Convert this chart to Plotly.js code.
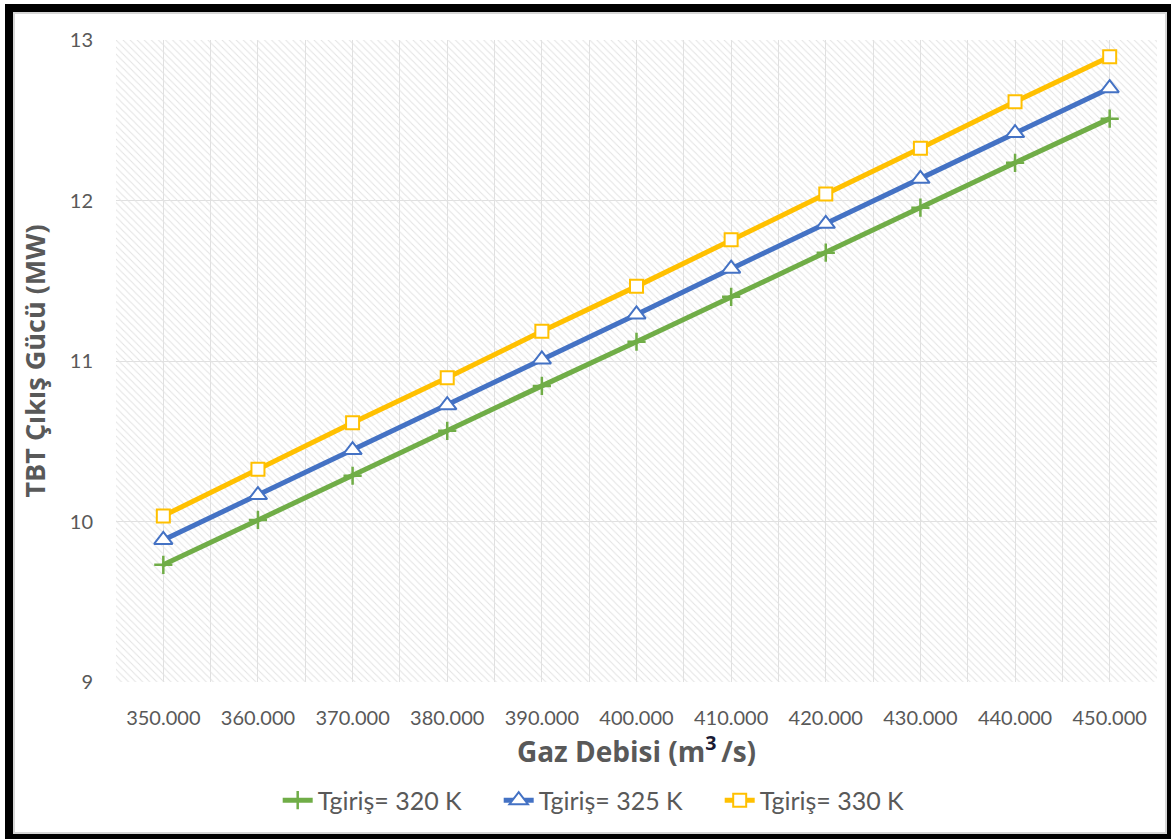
<!DOCTYPE html>
<html>
<head>
<meta charset="utf-8">
<script src="https://cdn.plot.ly/plotly-3.0.1.min.js"></script>
<style>
  html, body { margin: 0; padding: 0; background: #ffffff; }
  #wrap { position: relative; width: 1171px; height: 839px; overflow: hidden; }
  #chart { position: absolute; left: 0; top: 0; width: 1171px; height: 839px; }
  #frame {
    position: absolute; left: 5px; top: 4px; width: 1166px; height: 835px;
    box-sizing: border-box;
    border-left: 8px solid #000; border-top: 8px solid #000;
    border-right: 4px solid #000; border-bottom: 5px solid #000;
    box-shadow: inset 0 0 0 2px #d6d6d6;
    pointer-events: none;
  }
</style>
</head>
<body>
<div id="wrap">
  <div id="chart"></div>
  <div id="frame"></div>
</div>
<script>
// ---- data ----
const gasFlow = [350000, 360000, 370000, 380000, 390000, 400000, 410000, 420000, 430000, 440000, 450000];
const tickLabels = ["350.000", "360.000", "370.000", "380.000", "390.000", "400.000", "410.000", "420.000", "430.000", "440.000", "450.000"];
const power320 = [9.73, 10.01, 10.285, 10.565, 10.845, 11.12, 11.40, 11.675, 11.955, 12.235, 12.51];
const power325 = [9.885, 10.165, 10.445, 10.725, 11.01, 11.29, 11.575, 11.855, 12.135, 12.42, 12.70];
const power330 = [10.035, 10.325, 10.615, 10.895, 11.185, 11.465, 11.755, 12.04, 12.325, 12.615, 12.895];
const seriesNames = ["Tgiriş= 320 K", "Tgiriş= 325 K", "Tgiriş= 330 K"];
const yTicks = [9, 10, 11, 12, 13];
const xRange = [345000, 455000];
const yRange = [9, 13];

const font = "Lato, 'Open Sans', sans-serif";
const titleFont = "'Open Sans', Lato, sans-serif";
const textGray = "#595959";
const pad = "\u00a0\u00a0\u00a0\u00a0\u00a0";

const hatch = {
  x: [xRange[0], xRange[1], xRange[1], xRange[0], xRange[0]],
  y: [yRange[0], yRange[0], yRange[1], yRange[1], yRange[0]],
  mode: "lines", fill: "toself",
  line: { width: 0, color: "rgba(0,0,0,0)" },
  fillcolor: "rgba(0,0,0,0)",
  fillpattern: { shape: "\\", fgcolor: "#e3e3e3", bgcolor: "rgba(0,0,0,0)", size: 5, solidity: 0.2 },
  hoverinfo: "skip", showlegend: false
};

const t320 = {
  x: gasFlow, y: power320, name: seriesNames[0] + pad, mode: "lines+markers",
  line: { color: "#70AD47", width: 5 },
  marker: { symbol: "cross-thin", size: 13, color: "#70AD47", line: { color: "#70AD47", width: 2.5 } }
};
const t325 = {
  x: gasFlow, y: power325, name: seriesNames[1] + pad, mode: "lines+markers",
  line: { color: "#4472C4", width: 5 },
  marker: { symbol: "triangle-up", size: 16, color: "#ffffff", line: { color: "#4472C4", width: 2 } }
};
const t330 = {
  x: gasFlow, y: power330, name: seriesNames[2], mode: "lines+markers",
  line: { color: "#FFC000", width: 5 },
  marker: { symbol: "square", size: 13, color: "#ffffff", line: { color: "#FFC000", width: 2 } }
};

const layout = {
  width: 1171, height: 839,
  margin: { l: 116, r: 14, t: 40, b: 157 },
  paper_bgcolor: "#ffffff", plot_bgcolor: "#ffffff",
  font: { family: font, color: textGray, size: 20 },
  showlegend: true,
  legend: {
    orientation: "h", x: 0.507, xanchor: "center", xref: "container",
    y: 0.046, yanchor: "middle", yref: "container",
    font: { family: font, size: 25, color: textGray },
    itemwidth: 30, tracegroupgap: 0
  },
  xaxis: {
    range: xRange, tickmode: "array", tickvals: gasFlow, ticktext: tickLabels,
    showgrid: true, gridcolor: "#e0e0e0", gridwidth: 1,
    minor: { tick0: 345000, dtick: 10000, showgrid: true, gridcolor: "#e0e0e0", gridwidth: 1 },
    showline: false, zeroline: false, ticks: "",
    ticklabelstandoff: 22,
    tickfont: { family: font, size: 20, color: textGray },
    title: { text: "<b>Gaz Debisi (m<sup><span style='color:#1a1a33'>3</span></sup>\u2009/s)</b>", font: { family: titleFont, size: 28, color: textGray }, standoff: 9 }
  },
  yaxis: {
    range: yRange, tickmode: "array", tickvals: yTicks,
    showgrid: true, gridcolor: "#e0e0e0", gridwidth: 1,
    showline: false, zeroline: false, ticks: "",
    ticklabelstandoff: 22,
    tickfont: { family: font, size: 20, color: textGray },
    title: { text: "<b>TBT Çıkış Gücü (MW)</b>", font: { family: titleFont, size: 27, color: textGray }, standoff: 16 }
  }
};

Plotly.newPlot("chart", [hatch, t320, t325, t330], layout, { displayModeBar: false, staticPlot: true });
</script>
</body>
</html>
